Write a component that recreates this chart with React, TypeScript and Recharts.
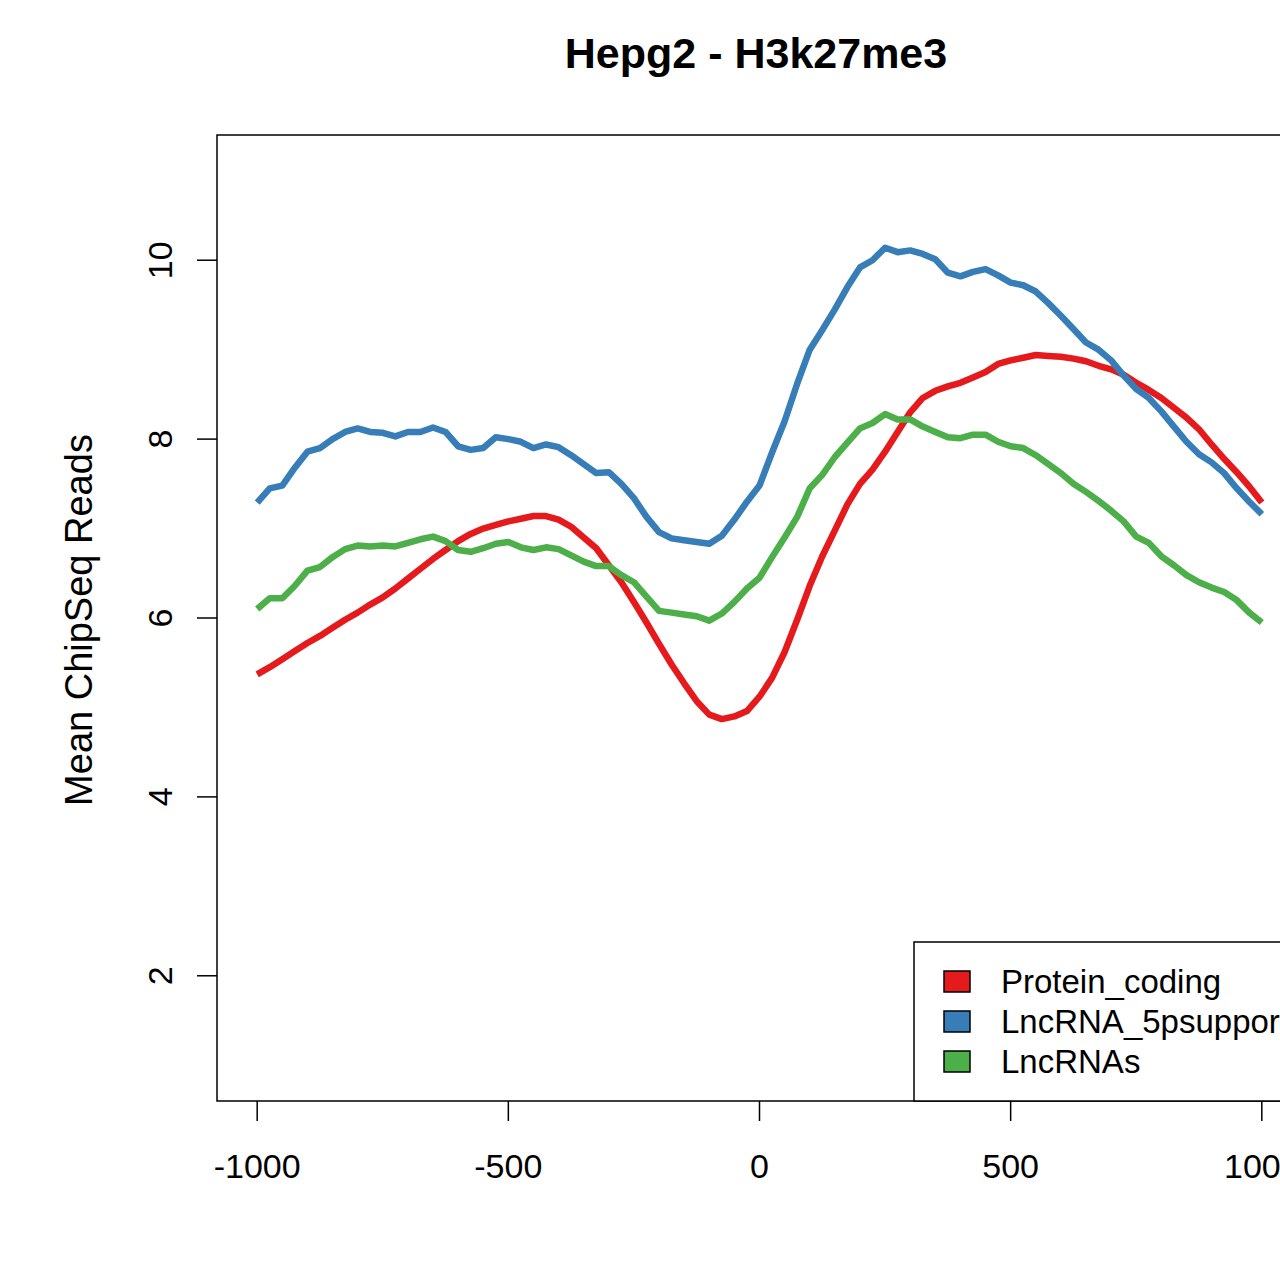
import React from "react";
import { LineChart, Line, XAxis, YAxis, ReferenceArea } from "recharts";

// ─── Data ─────────────────────────────────────────────────────────────────────

const positions = [
    -1000, -975, -950, -925, -900, -875, -850, -825, -800, -775,
    -750, -725, -700, -675, -650, -625, -600, -575, -550, -525,
    -500, -475, -450, -425, -400, -375, -350, -325, -300, -275,
    -250, -225, -200, -175, -150, -125, -100, -75, -50, -25,
    0, 25, 50, 75, 100, 125, 150, 175, 200, 225,
    250, 275, 300, 325, 350, 375, 400, 425, 450, 475,
    500, 525, 550, 575, 600, 625, 650, 675, 700, 725,
    750, 775, 800, 825, 850, 875, 900, 925, 950, 975,
    1000,
];

const proteinCoding = [
    5.37, 5.45, 5.54, 5.63, 5.72, 5.8, 5.89, 5.98, 6.06, 6.15,
    6.23, 6.33, 6.44, 6.55, 6.66, 6.76, 6.86, 6.94, 7.0, 7.04,
    7.08, 7.11, 7.14, 7.14, 7.1, 7.02, 6.9, 6.78, 6.59, 6.4,
    6.18, 5.95, 5.71, 5.48, 5.27, 5.07, 4.92, 4.87, 4.9, 4.96,
    5.12, 5.33, 5.62, 5.98, 6.36, 6.69, 6.98, 7.27, 7.5, 7.66,
    7.86, 8.08, 8.3, 8.46, 8.54, 8.59, 8.63, 8.69, 8.75, 8.84,
    8.88, 8.91, 8.94, 8.93, 8.92, 8.9, 8.87, 8.82, 8.78, 8.72,
    8.63, 8.55, 8.46, 8.35, 8.24, 8.11, 7.94, 7.78, 7.63, 7.47,
    7.29,
];

const lncRna5p = [
    7.29, 7.45, 7.48, 7.68, 7.86, 7.9, 8.0, 8.08, 8.12, 8.08,
    8.07, 8.03, 8.08, 8.08, 8.13, 8.08, 7.92, 7.88, 7.9, 8.02,
    8.0, 7.97, 7.9, 7.94, 7.91, 7.82, 7.72, 7.62, 7.63, 7.5,
    7.34, 7.13, 6.96, 6.89, 6.87, 6.85, 6.83, 6.92, 7.1, 7.3,
    7.48, 7.85, 8.2, 8.62, 9.0, 9.22, 9.45, 9.7, 9.92, 10.0,
    10.14, 10.09, 10.11, 10.07, 10.01, 9.86, 9.82, 9.87, 9.9, 9.83,
    9.75, 9.72, 9.65, 9.52, 9.38, 9.23, 9.08, 9.0, 8.88, 8.71,
    8.56, 8.46, 8.31, 8.14, 7.97, 7.83, 7.74, 7.62, 7.45, 7.3,
    7.16,
];

const lncRnas = [
    6.1, 6.22, 6.22, 6.36, 6.53, 6.57, 6.68, 6.77, 6.81, 6.8,
    6.81, 6.8, 6.84, 6.88, 6.91, 6.86, 6.76, 6.74, 6.78, 6.83,
    6.85, 6.79, 6.76, 6.79, 6.77, 6.7, 6.63, 6.58, 6.58, 6.48,
    6.4, 6.24, 6.08, 6.06, 6.04, 6.02, 5.97, 6.05, 6.18, 6.33,
    6.45, 6.68, 6.9, 7.13, 7.45, 7.6, 7.8, 7.96, 8.12, 8.18,
    8.28, 8.22, 8.22, 8.14, 8.08, 8.02, 8.01, 8.05, 8.05, 7.97,
    7.92, 7.9, 7.82, 7.72, 7.62, 7.5, 7.41, 7.31, 7.2, 7.08,
    6.91, 6.84, 6.69, 6.59, 6.48, 6.4, 6.34, 6.29, 6.2, 6.06,
    5.95,
];

const xTicks = [-1000, -500, 0, 500, 1000];
const yTicks = [2, 4, 6, 8, 10];

const seriesKeys = ["protein", "lnc5p", "lnc"];
const seriesNames = ["Protein_coding", "LncRNA_5psupport", "LncRNAs"];
const seriesColors = ["#E41A1C", "#377EB8", "#4DAF4A"];

const rows = positions.map((x, i) => ({
    x,
    protein: proteinCoding[i],
    lnc5p: lncRna5p[i],
    lnc: lncRnas[i],
}));

const FONT = "'Liberation Sans', Arial, Helvetica, sans-serif";

// ─── Ticks ────────────────────────────────────────────────────────────────────

const XTick = ({ x, y, payload }: any) => (
    <text
        x={x}
        y={y + 45}
        textAnchor="middle"
        dominantBaseline="central"
        fontSize={34}
        fontFamily={FONT}
        fill="#000"
    >
        {payload.value}
    </text>
);

const YTick = ({ x, y, payload }: any) => (
    <text
        x={x - 37}
        y={y}
        transform={`rotate(-90, ${x - 37}, ${y})`}
        textAnchor="middle"
        dominantBaseline="central"
        fontSize={34}
        fontFamily={FONT}
        fill="#000"
    >
        {payload.value}
    </text>
);

export default function App() {
    return (
        <div
            style={{
                position: "absolute",
                left: 0,
                top: 0,
                width: 1280,
                height: 1276,
                overflow: "hidden",
                background: "#fff",
            }}
        >
            <LineChart
                width={1320}
                height={1276}
                data={rows}
                margin={{ top: 135, right: 18, bottom: 115, left: 137 }}
            >
                <XAxis
                    dataKey="x"
                    type="number"
                    domain={[-1080, 1080]}
                    ticks={xTicks}
                    allowDataOverflow
                    height={60}
                    axisLine={false}
                    tickSize={20}
                    tickMargin={0}
                    tickLine={{ stroke: "#000", strokeWidth: 1.5 }}
                    tick={<XTick />}
                    interval={0}
                />
                <YAxis
                    type="number"
                    domain={[0.6, 11.4]}
                    ticks={yTicks}
                    allowDataOverflow
                    width={80}
                    axisLine={false}
                    tickSize={20}
                    tickMargin={0}
                    tickLine={{ stroke: "#000", strokeWidth: 1.5 }}
                    tick={<YTick />}
                    interval={0}
                />
                <ReferenceArea
                    x1={-1080}
                    x2={1080}
                    y1={0.6}
                    y2={11.4}
                    fill="none"
                    stroke="#000"
                    strokeWidth={1.5}
                    fillOpacity={0}
                    ifOverflow="visible"
                />
                {seriesKeys.map((k, i) => (
                    <Line
                        key={k}
                        dataKey={k}
                        name={seriesNames[i]}
                        stroke={seriesColors[i]}
                        strokeWidth={6.5}
                        strokeLinejoin="round"
                        dot={false}
                        activeDot={false}
                        type="linear"
                        isAnimationActive={false}
                    />
                ))}
            </LineChart>

            {/* title, y label and legend drawn R-style on top */}
            <svg
                width={1280}
                height={1276}
                style={{ position: "absolute", left: 0, top: 0, pointerEvents: "none" }}
            >
                <text
                    x={756}
                    y={68}
                    textAnchor="middle"
                    fontSize={43}
                    fontWeight="bold"
                    fontFamily={FONT}
                    fill="#000"
                >
                    Hepg2 - H3k27me3
                </text>
                <text
                    transform="translate(92,620) rotate(-90)"
                    textAnchor="middle"
                    fontSize={38}
                    fontFamily={FONT}
                    fill="#000"
                >
                    Mean ChipSeq Reads
                </text>
                <rect x={914} y={942} width={420} height={159} fill="#fff" stroke="#000" strokeWidth={1.5} />
                {seriesNames.map((name, i) => (
                    <g key={name}>
                        <rect
                            x={944}
                            y={971 + i * 40}
                            width={26}
                            height={21}
                            fill={seriesColors[i]}
                            stroke="#000"
                            strokeWidth={1.5}
                        />
                        <text x={1001} y={993 + i * 40} fontSize={33} fontFamily={FONT} fill="#000">
                            {name}
                        </text>
                    </g>
                ))}
            </svg>
        </div>
    );
}
